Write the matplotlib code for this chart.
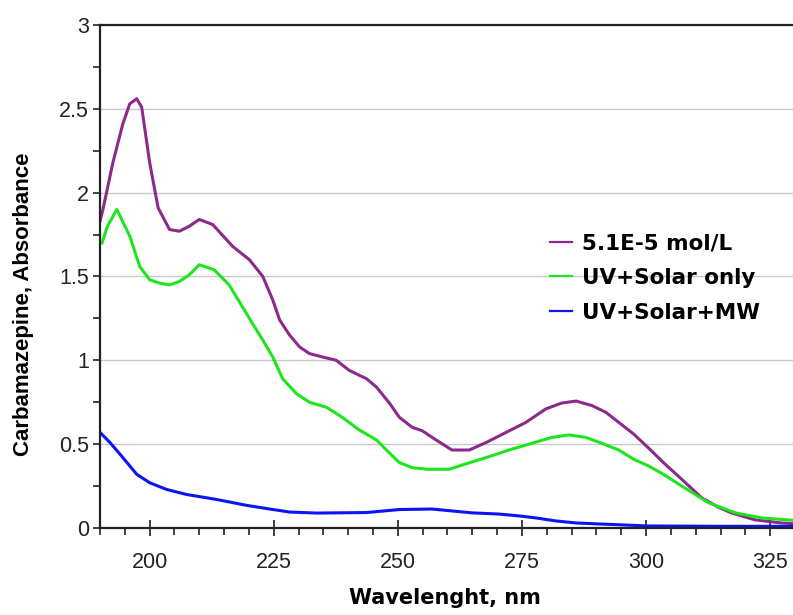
"""Carbamazepine UV absorbance spectra, before and after treatment."""

import matplotlib
matplotlib.use("Agg")
import matplotlib.pyplot as plt
from matplotlib.ticker import MultipleLocator

# wavelength (nm) / absorbance
wl_ref = [190, 190.6, 192.6, 194.6, 196, 197.4, 198.4, 200, 201.7, 204, 206, 208, 210,
          212.7, 216.7, 220.1, 222.8, 224.8, 226.2, 228.2, 230.2, 232.2, 234.8, 237.6,
          240.2, 243.7, 245.7, 248.3, 250.3, 252.9, 254.9, 257.7, 260.9, 264.4, 267.8,
          271.8, 275.8, 279.8, 283.0, 285.9, 289.1, 291.9, 294.5, 297.5, 300.4, 303.5,
          307.2, 311.2, 314.5, 317.2, 322, 327.3, 330]
abs_ref = [1.83, 1.90, 2.18, 2.41, 2.53, 2.56, 2.51, 2.18, 1.91, 1.78, 1.77, 1.80, 1.84,
           1.81, 1.68, 1.60, 1.50, 1.36, 1.24, 1.15, 1.08, 1.04, 1.02, 1.00,
           0.94, 0.89, 0.84, 0.745, 0.66, 0.60, 0.58, 0.525, 0.465, 0.465, 0.51,
           0.57, 0.63, 0.71, 0.745, 0.757, 0.73, 0.69, 0.63, 0.56, 0.48, 0.39,
           0.29, 0.18, 0.125, 0.09, 0.048, 0.03, 0.025]

wl_uvsolar = [190.4, 191.5, 193.4, 196, 198, 200, 202, 204, 206, 208, 210, 213, 216,
              220.1, 222.8, 224.8, 226.8, 229.6, 232.2, 235.6, 238.8, 242.2, 245.7,
              247.7, 250.3, 252.9, 256, 260.3, 262.9, 267.8, 272.4, 277.0, 281.0,
              284.5, 287.9, 291.1, 294.5, 297.5, 300.5, 303.5, 307.2, 312.6, 318,
              323.3, 330]
abs_uvsolar = [1.70, 1.80, 1.90, 1.74, 1.56, 1.48, 1.46, 1.45, 1.47, 1.51, 1.57, 1.54, 1.45,
               1.25, 1.12, 1.02, 0.89, 0.80, 0.75, 0.72, 0.66, 0.585, 0.525,
               0.465, 0.39, 0.36, 0.35, 0.35, 0.375, 0.42, 0.465, 0.505, 0.54,
               0.555, 0.54, 0.505, 0.465, 0.41, 0.37, 0.32, 0.25, 0.15, 0.09,
               0.06, 0.045]

wl_mw = [190, 192, 194.6, 197.4, 200, 203.4, 207.4, 213.5, 219.5, 224.2, 228.2, 233.6,
         243.7, 250.3, 256.9, 265, 270.4, 274.4, 277.8, 281.8, 285.9, 290.5, 300.5,
         315, 330]
abs_mw = [0.57, 0.51, 0.42, 0.32, 0.27, 0.23, 0.20, 0.17, 0.135, 0.113, 0.095, 0.089,
          0.092, 0.11, 0.113, 0.09, 0.083, 0.072, 0.06, 0.042, 0.03, 0.024, 0.012,
          0.01, 0.01]

labels = ["5.1E-5 mol/L", "UV+Solar only", "UV+Solar+MW"]
colors = ["#8c2a8c", "#1ee61e", "#0a14f5"]

fig = plt.figure(figsize=(7.93, 6.15), dpi=100)
ax = fig.add_axes([0.1261, 0.1415, 0.8764, 0.8179])

ax.plot(wl_ref, abs_ref, color=colors[0], lw=2.2, label=labels[0])
ax.plot(wl_uvsolar, abs_uvsolar, color=colors[1], lw=2.2, label=labels[1])
ax.plot(wl_mw, abs_mw, color=colors[2], lw=2.2, label=labels[2])

ax.set_xlim(190, 330)
ax.set_ylim(0, 3)
ax.xaxis.set_major_locator(MultipleLocator(25))
ax.xaxis.set_minor_locator(MultipleLocator(5))
ax.yaxis.set_major_locator(MultipleLocator(0.5))
ax.yaxis.set_minor_locator(MultipleLocator(0.25))
ax.set_xticks([200, 225, 250, 275, 300, 325])
ax.set_yticks([0, 0.5, 1, 1.5, 2, 2.5, 3])
ax.set_yticklabels(["0", "0.5", "1", "1.5", "2", "2.5", "3"])

ax.grid(axis="y", which="major", color="#c8c8c8", lw=1)
ax.set_axisbelow(True)
ax.spines["right"].set_visible(False)
for s in ["left", "bottom", "top"]:
    ax.spines[s].set_color("#222222")
    ax.spines[s].set_linewidth(1.6)

ax.tick_params(axis="x", which="major", direction="inout", length=11, width=1.2,
               color="#222222", pad=12, labelsize=15.5)
ax.tick_params(axis="x", which="minor", direction="out", length=5, width=1.2, color="#222222")
ax.tick_params(axis="y", which="both", direction="out", length=5, width=1.2,
               color="#222222", pad=3, labelsize=15.5)
for lab in ax.get_xticklabels() + ax.get_yticklabels():
    lab.set_family("Liberation Sans")
    lab.set_color("#222222")

ax.set_xlabel("Wavelenght, nm", family="DejaVu Sans", fontweight="bold", fontsize=15)
ax.xaxis.set_label_coords(445 / 793, 1 - 588 / 615, transform=fig.transFigure)
ax.set_ylabel("Carbamazepine, Absorbance", family="Liberation Sans", fontweight="bold", fontsize=16)
ax.yaxis.set_label_coords(34 / 793, 1 - 304 / 615, transform=fig.transFigure)

leg = ax.legend(loc="center left", bbox_to_anchor=(550 / 793, 1 - 278 / 615),
                bbox_transform=fig.transFigure, frameon=False, borderpad=0,
                borderaxespad=0, handlelength=1.0, handletextpad=0.5, labelspacing=0.68,
                prop={"family": "DejaVu Sans", "weight": "bold", "size": 15.5})
for h in leg.legend_handles:
    h.set_linewidth(1.6)

fig.savefig("out.png", dpi=100)
